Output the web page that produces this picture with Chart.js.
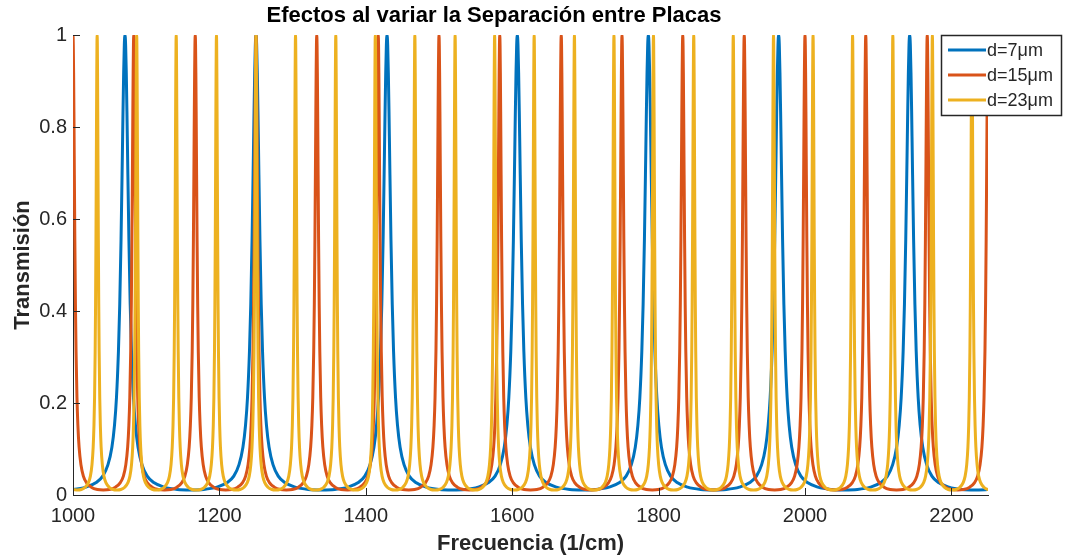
<!DOCTYPE html>
<html>
<head>
<meta charset="utf-8">
<script src="https://cdn.jsdelivr.net/npm/chart.js@4/dist/chart.umd.min.js"></script>
<style>
	html, body { margin: 0; padding: 0; background: #fff; }
	#wrap { width: 1067px; height: 560px; }
</style>
</head>
<body>
<div id="wrap"><canvas id="chart"></canvas></div>
<script>
// Peak positions (1/cm), one list per plate separation.
var PEAKS_7  = [ 893, 1071, 1250, 1429, 1607, 1786, 1964, 2143, 2321 ];
var PEAKS_15 = [ 917, 1000, 1083, 1167, 1250, 1333, 1417, 1500, 1583, 1667, 1750, 1833, 1917, 2000, 2083, 2167, 2250, 2333 ];
var PEAKS_23 = [ 978, 1033, 1087, 1141, 1196, 1250, 1304, 1359, 1413, 1467, 1522, 1576, 1630, 1685, 1739, 1793, 1848, 1902, 1957, 2011, 2065, 2120, 2174, 2228, 2283 ];

// Spacing between neighbouring peaks of each series (1/cm).
var PERIOD_7  = 178.6;
var PERIOD_15 = 83.3;
var PERIOD_23 = 54.35;

// Shape of one peak: offset from the centre as a
// fraction of the peak spacing, and the transmission there.
var PROFILE_OFFSET = [ 0, 0.005, 0.01, 0.015, 0.02, 0.03, 0.04, 0.05, 0.065, 0.08, 0.1, 0.13, 0.17, 0.22, 0.3, 0.4, 0.5 ];
var PROFILE_T      = [ 1, 0.978, 0.918, 0.834, 0.738, 0.556, 0.414, 0.312, 0.212, 0.152, 0.104, 0.066, 0.041, 0.027, 0.017, 0.012, 0.011 ];

var SERIES_LABELS = [ 'd=7\u03bcm', 'd=15\u03bcm', 'd=23\u03bcm' ];
var SERIES_COLORS = [ '#0072BD', '#D95319', '#EDB120' ];

var X_TICKS = [ 1000, 1200, 1400, 1600, 1800, 2000, 2200 ];
var Y_TICKS = [ 0, 0.2, 0.4, 0.6, 0.8, 1 ];

var FONT = '"Liberation Sans", Arial, Helvetica, sans-serif';
var INK  = '#262626';

/**
 * Lays the read peak shape around every read peak centre.
 */
function buildSeries( peaks, period ) {
	var pts = [];
	peaks.forEach( function ( c ) {
		for ( var i = PROFILE_OFFSET.length - 1; i > 0; i-- ) {
			pts.push( { x: c - PROFILE_OFFSET[ i ] * period, y: PROFILE_T[ i ] } );
		}
		for ( var j = 0; j < PROFILE_OFFSET.length; j++ ) {
			pts.push( { x: c + PROFILE_OFFSET[ j ] * period, y: PROFILE_T[ j ] } );
		}
	} );
	pts.sort( function ( a, b ) { return a.x - b.x; } );
	return pts;
}

// Inward tick marks and the legend box, MATLAB style.
var matlabBits = {
	id: 'matlabBits',
	afterDatasetsDraw: function ( chart ) {
		var ctx = chart.ctx;
		var xs = chart.scales.x;
		var ys = chart.scales.y;
		var area = chart.chartArea;
		ctx.save();
		ctx.strokeStyle = INK;
		ctx.lineWidth = 1;
		ctx.beginPath();
		X_TICKS.forEach( function ( v ) {
			var px = Math.round( xs.getPixelForValue( v ) ) + 0.5;
			ctx.moveTo( px, area.bottom );
			ctx.lineTo( px, area.bottom - 7 );
		} );
		Y_TICKS.forEach( function ( v ) {
			var py = Math.round( ys.getPixelForValue( v ) ) + 0.5;
			ctx.moveTo( area.left, py );
			ctx.lineTo( area.left + 7, py );
		} );
		ctx.stroke();

		// legend
		var bx = 941, by = 35, bw = 120, bh = 80;
		ctx.fillStyle = '#fff';
		ctx.fillRect( bx, by, bw, bh );
		ctx.strokeStyle = INK;
		ctx.lineWidth = 1.5;
		ctx.strokeRect( bx + 0.5, by + 0.5, bw, bh );
		ctx.font = '18px ' + FONT;
		ctx.textBaseline = 'middle';
		ctx.textAlign = 'left';
		SERIES_LABELS.forEach( function ( lab, i ) {
			var ly = by + 15 + i * 25;
			ctx.strokeStyle = SERIES_COLORS[ i ];
			ctx.lineWidth = 3;
			ctx.beginPath();
			ctx.moveTo( 948, ly );
			ctx.lineTo( 986, ly );
			ctx.stroke();
			ctx.fillStyle = INK;
			ctx.fillText( lab, 987, ly + 1 );
		} );
		ctx.restore();
	}
};

var allPeaks   = [ PEAKS_7, PEAKS_15, PEAKS_23 ];
var allPeriods = [ PERIOD_7, PERIOD_15, PERIOD_23 ];

var datasets = SERIES_LABELS.map( function ( lab, i ) {
	return {
		label: lab,
		data: buildSeries( allPeaks[ i ], allPeriods[ i ] ),
		borderColor: SERIES_COLORS[ i ],
		borderWidth: 3,
		pointRadius: 0,
		cubicInterpolationMode: 'monotone',
		fill: false,
		order: 3 - i
	};
} );

new Chart( document.getElementById( 'chart' ), {
	type: 'line',
	data: { datasets: datasets },
	plugins: [ matlabBits ],
	options: {
		responsive: true,
		maintainAspectRatio: false,
		animation: false,
		parsing: false,
		normalized: true,
		layout: { padding: { left: 0, right: 79, top: 0, bottom: 0 } },
		plugins: {
			legend: { display: false },
			tooltip: { enabled: false },
			title: {
				display: true,
				text: 'Efectos al variar la Separaci\u00f3n entre Placas',
				color: '#000',
				font: { family: FONT, size: 22, weight: 'bold' },
				padding: { top: 3, bottom: 5.6 }
			}
		},
		scales: {
			x: {
				type: 'linear',
				min: 1000,
				max: 2250,
				afterFit: function ( s ) { s.height = 65; },
				afterBuildTicks: function ( s ) {
					s.ticks = X_TICKS.map( function ( v ) { return { value: v }; } );
				},
				grid: { display: false, drawTicks: false },
				border: { display: true, color: INK, width: 1 },
				ticks: {
					color: INK,
					padding: 9,
					maxRotation: 0,
					font: { family: FONT, size: 20 },
					callback: function ( v ) { return String( v ); }
				},
				title: {
					display: true,
					text: 'Frecuencia (1/cm)',
					color: INK,
					font: { family: FONT, size: 22, weight: 'bold' },
					padding: { top: 0, bottom: 3 }
				}
			},
			y: {
				type: 'linear',
				min: 0,
				max: 1,
				afterFit: function ( s ) { s.width = 73; },
				afterBuildTicks: function ( s ) {
					s.ticks = Y_TICKS.map( function ( v ) { return { value: v }; } );
				},
				grid: { display: false, drawTicks: false },
				border: { display: true, color: INK, width: 1 },
				ticks: {
					color: INK,
					padding: 6,
					font: { family: FONT, size: 20 },
					callback: function ( v ) { return String( v ); }
				},
				title: {
					display: true,
					text: 'Transmisi\u00f3n',
					color: INK,
					font: { family: FONT, size: 22, weight: 'bold' },
					padding: { top: 10, bottom: 0 }
				}
			}
		}
	}
} );
</script>
</body>
</html>
